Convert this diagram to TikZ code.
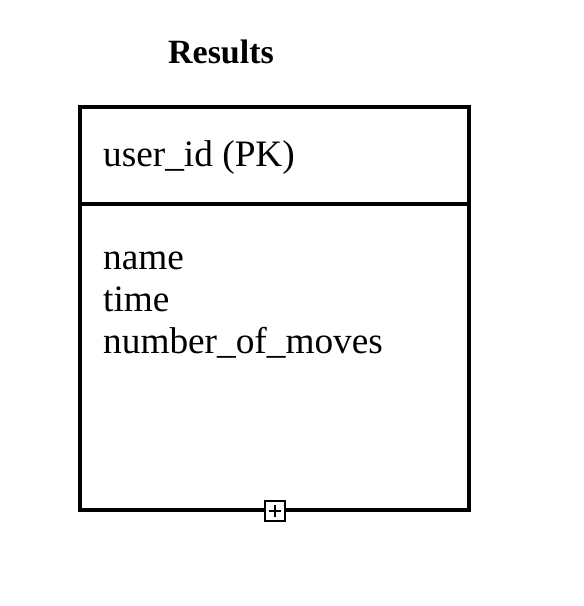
\documentclass[tikz,border=0pt]{standalone}
\usepackage{fontspec}
\setmainfont{Liberation Serif}
\usetikzlibrary{positioning}
\begin{document}
\begin{tikzpicture}[x=1pt,y=-1pt,
  table/.style={draw=black,line width=4.2pt},
  field/.style={anchor=base west,inner sep=0pt,font=\fontsize{37.3}{42}\selectfont},
  expander/.style={draw=black,fill=white,line width=1.5pt,minimum size=20pt,inner sep=0pt}]
\useasboundingbox (0,0) rectangle (584,606);
\node[anchor=base,inner sep=0pt,font=\bfseries\fontsize{34}{40}\selectfont] (title) at (221,63) {Results};
\draw[table] (80,107) rectangle (469,510);
\draw[table] (80,204) -- (469,204);
\node[field] (key) at (103,166) {user\_id (PK)};
\foreach \f [count=\i] in {name,time,number\_of\_moves}
\node[field] (attr\i) at (103,{227+42*\i}) {\f};
\node[expander] (plus) at (275,511) {};
\draw[line width=1.5pt] ([xshift=-6pt]plus.center) -- ([xshift=6pt]plus.center);
\draw[line width=1.5pt] ([yshift=-6pt]plus.center) -- ([yshift=6pt]plus.center);
\end{tikzpicture}
\end{document}
